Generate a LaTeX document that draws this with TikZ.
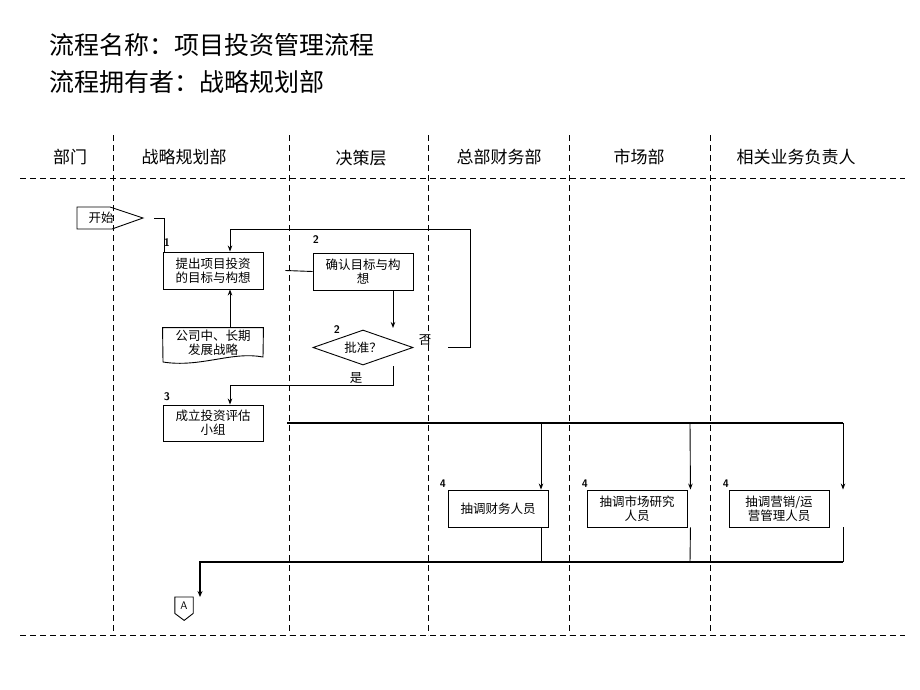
\documentclass[tikz,border=0pt]{standalone}
\usepackage{fontspec}
\newfontfamily\cjk{Noto Sans CJK SC}
\usetikzlibrary{shapes.geometric,arrows.meta}

\tikzset{
  lane/.style={line width=0.9pt,dash pattern=on 6pt off 4pt},
  box/.style={draw,line width=0.9pt,minimum width=100pt,inner sep=0pt,align=center,
    font=\cjk\fontsize{12.5}{14}\selectfont},
  head/.style={font=\cjk\fontsize{17}{19}\selectfont},
  title/.style={anchor=west,font=\cjk\fontsize{25}{28}\selectfont},
  num/.style={font=\sffamily\bfseries\fontsize{11}{12}\selectfont,inner sep=0pt},
  lab/.style={font=\cjk\fontsize{12.5}{14}\selectfont,inner sep=0pt},
  conn/.style={line width=0.9pt},
  arr/.style={line width=0.9pt,-{Stealth[length=6pt,width=4.5pt]}},
  bold arr/.style={line width=1.8pt,-{Stealth[length=6pt,width=5pt]}}
}

\begin{document}
\begin{tikzpicture}[x=1pt,y=-1pt]
        \useasboundingbox[fill=white] (0,0) rectangle (920,690);

        % title
        \node[title] (t1) at (46,45) {流程名称：项目投资管理流程};
        \node[title] (t2) at (46,82) {流程拥有者：战略规划部};

        % lanes
        \foreach \x in {113,289,428,569,710}
            \draw[lane] (\x,135) -- (\x,635);
        \draw[lane] (20,178) -- (905,178);
        \draw[lane] (20,635) -- (905,635);

        \node[head] (h0) at (70,157) {部门};
        \node[head] (h1) at (184,157) {战略规划部};
        \node[head] (h2) at (361,158) {决策层};
        \node[head] (h3) at (499,157) {总部财务部};
        \node[head] (h4) at (639,157) {市场部};
        \node[head] (h5) at (796,157) {相关业务负责人};

        % start
        \draw[conn] (77,207) -- (110,207) -- (143,218) -- (112,229) -- (77,229) -- cycle;
        \node[lab] (start) at (101,218) {开始};
        \coordinate (s1) at (154,218);

        % steps
        \node[box,minimum height=37pt] (b1) at (213,270.5) {提出项目投资\\的目标与构想};
        \node[box,minimum height=37pt] (b2) at (363,271.5) {确认目标与构\\想};
        \node[draw,line width=0.9pt,shape=diamond,aspect=2.86,minimum width=100pt,
              minimum height=35pt,inner sep=0pt,font=\cjk\fontsize{12.5}{14}\selectfont]
              (d1) at (363,347.5) {批准？};
        \node[box,draw=none,minimum height=30pt] (doc) at (213,343) {公司中、长期\\发展战略};
        \draw[conn] (doc.north west) -- (doc.north east) -- (263,357)
            .. controls (232,351) and (200,368) .. (163,362) -- cycle;
        \node[box,minimum height=36pt] (b3) at (213,423) {成立投资评估\\小组};
        \node[box,minimum height=37pt] (b4a) at (498,508.5) {抽调财务人员};
        \node[box,minimum height=37pt] (b4b) at (637,508.5) {抽调市场研究\\人员};
        \node[box,minimum height=37pt] (b4c) at (779,508.5) {抽调营销/运\\营管理人员};

        \node[num] (n1) at (167,243) {1};
        \node[num] (n2) at (316,240) {2};
        \node[num] (n2b) at (337,330) {2};
        \node[num] (n3) at (167,397) {3};
        \node[num] (n4a) at (443,484) {4};
        \node[num] (n4b) at (585,484) {4};
        \node[num] (n4c) at (726,484) {4};

        \node[lab] (no) at (425,340) {否};
        \node[lab] (yes) at (356,378) {是};

        % connectors
        \draw[conn] (s1) -| ([xshift=2pt]b1.north west);
        \draw[conn] ([xshift=22pt]b1.east) -- (b2.west);
        \draw[arr] ([xshift=17pt]doc.north) -- ([xshift=17pt]b1.south);
        \coordinate (c1) at (393,328);
        \draw[arr] (b2.south -| c1) -- (c1);
        \coordinate (r1) at (448,347);
        \draw[arr] (r1) -| (470,229) -| ([xshift=17pt]b1.north);
        \coordinate (y1) at (393,366);
        \draw[arr] (y1) -- (393,385) -| ([xshift=17pt]b3.north);

        % split to the three lanes
        \coordinate (k0) at (287,423);
        \draw[line width=1.3pt] (k0) -- (843,423);
        \draw[arr] (541,423) -- ([xshift=43pt]b4a.north);
        \draw[arr] (690,423) -- ([xshift=3pt]b4b.north east);
        \draw[arr] (843,423) -- ([xshift=64pt]b4c.north);

        % merge to connector A
        \node[minimum width=18pt,minimum height=16pt,inner sep=0pt,anchor=north,
              font=\sffamily\fontsize{11}{12}\selectfont] (pa) at (184,597) {A};
        \draw[conn] (pa.north west) -- (pa.north east) -- (pa.south east)
            -- ++(-9,7) -- (pa.south west) -- cycle;
        \draw[conn] ([xshift=43pt]b4a.south) -- (541,562);
        \draw[conn] ([xshift=3pt]b4b.south east) -- (690,562);
        \draw[conn] ([xshift=64pt]b4c.south) -- (843,562);
        \draw[line width=1.3pt] (843,562) -- (200,562);
        \draw[bold arr] (200,561.4) -- ([xshift=16pt]pa.north);
    \end{tikzpicture}
\end{document}
